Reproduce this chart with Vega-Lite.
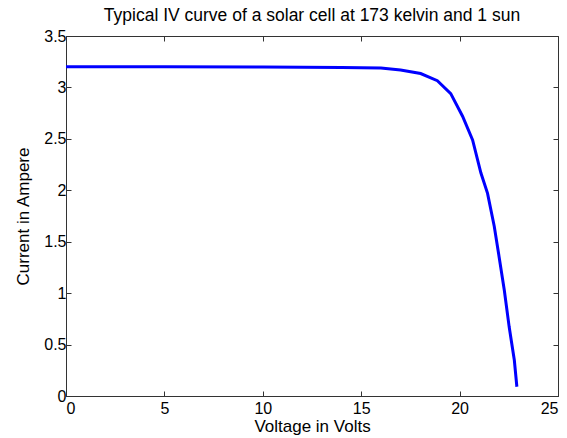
{
  "$schema": "https://vega.github.io/schema/vega-lite/v6.json",
  "autosize": {"type": "none"},
  "padding": {"left": 66, "top": 36, "right": 9, "bottom": 42},
  "width": 492,
  "height": 360,
  "background": "white",
  "config": {
    "view": {"stroke": "#333333", "strokeWidth": 1},
    "font": "Liberation Sans",
    "axis": {"grid": false, "domainColor": "#333333", "tickColor": "#333333", "labelColor": "#000000", "titleColor": "#000000", "labelFont": "Liberation Sans", "titleFont": "Liberation Sans", "labelFontSize": 16, "titleFontSize": 17, "titleFontWeight": "normal", "tickSize": -5, "format": "~g"}
  },
  "title": {"text": "Typical IV curve of a solar cell at 173 kelvin and 1 sun", "font": "Liberation Sans", "fontSize": 17.5, "fontWeight": "normal", "color": "#000000", "offset": 4},
  "data": {"values": [
    {"V": 0, "I": 3.2},
    {"V": 5, "I": 3.2},
    {"V": 10, "I": 3.198},
    {"V": 12, "I": 3.195},
    {"V": 14, "I": 3.193},
    {"V": 16, "I": 3.19},
    {"V": 17.0, "I": 3.17},
    {"V": 18.02, "I": 3.135},
    {"V": 18.87, "I": 3.065},
    {"V": 19.55, "I": 2.94},
    {"V": 20.15, "I": 2.72},
    {"V": 20.66, "I": 2.49},
    {"V": 21.08, "I": 2.17},
    {"V": 21.42, "I": 1.97},
    {"V": 21.76, "I": 1.65},
    {"V": 22.01, "I": 1.35},
    {"V": 22.27, "I": 1.03},
    {"V": 22.52, "I": 0.67},
    {"V": 22.78, "I": 0.35},
    {"V": 22.91, "I": 0.09}
  ]},
  "layer": [
    {
      "mark": {"type": "line", "color": "#0000FF", "strokeWidth": 3},
      "encoding": {
        "x": {"field": "V", "type": "quantitative", "scale": {"domain": [0, 25], "nice": false}, "axis": {"title": "Voltage in Volts", "values": [0, 5, 10, 15, 20, 25], "labelPadding": 9, "titlePadding": 2}},
        "y": {"field": "I", "type": "quantitative", "scale": {"domain": [0, 3.5], "nice": false}, "axis": {"title": "Current in Ampere", "values": [0, 0.5, 1, 1.5, 2, 2.5, 3, 3.5], "labelPadding": 5, "titlePadding": 11}}
      }
    },
    {
      "mark": {"type": "line", "opacity": 0},
      "encoding": {
        "x": {"field": "V", "type": "quantitative", "scale": {"domain": [0, 25], "nice": false}, "axis": {"orient": "top", "title": null, "labels": false, "domain": false, "values": [0, 5, 10, 15, 20, 25]}},
        "y": {"field": "I", "type": "quantitative", "scale": {"domain": [0, 3.5], "nice": false}, "axis": {"orient": "right", "title": null, "labels": false, "domain": false, "values": [0, 0.5, 1, 1.5, 2, 2.5, 3, 3.5]}}
      }
    }
  ],
  "resolve": {"axis": {"x": "independent", "y": "independent"}}
}
